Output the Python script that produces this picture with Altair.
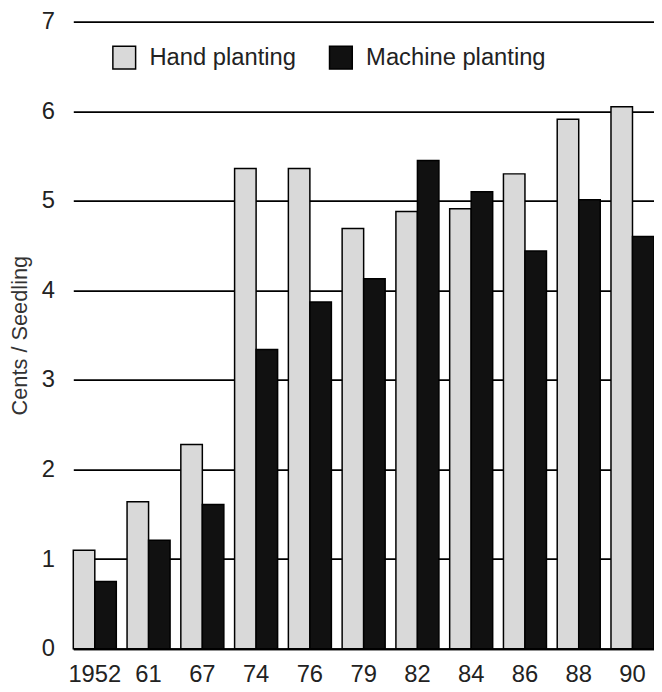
import altair as alt
import pandas as pd

years = ["1952", "61", "67", "74", "76", "79", "82", "84", "86", "88", "90"]
hand = [1.10, 1.64, 2.28, 5.36, 5.36, 4.69, 4.88, 4.91, 5.30, 5.91, 6.05]
machine = [0.75, 1.21, 1.61, 3.34, 3.87, 4.13, 5.45, 5.10, 4.44, 5.01, 4.60]
methods = ["Hand planting", "Machine planting"]
colors = ["#d9d9d9", "#111111"]
y_ticks = [0, 1, 2, 3, 4, 5, 6, 7]

rows = []
for i, yr in enumerate(years):
    rows.append({"year": yr, "method": methods[0], "value": hand[i]})
    rows.append({"year": yr, "method": methods[1], "value": machine[i]})
df = pd.DataFrame(rows)

FONT = "Liberation Sans"

chart = alt.Chart(df).mark_bar(stroke="black", strokeWidth=1.5).encode(
    x=alt.X("year:N", sort=years,
            scale=alt.Scale(paddingInner=0.2, paddingOuter=0),
            axis=alt.Axis(title=None, labelAngle=0, labelFontSize=24, labelFont=FONT,
                          labelColor="#222", labelPadding=14, ticks=False,
                          domain=True, domainColor="black", domainWidth=2)),
    xOffset=alt.XOffset("method:N", sort=methods),
    y=alt.Y("value:Q", scale=alt.Scale(domain=[0, 7], nice=False),
            axis=alt.Axis(title="Cents / Seedling", values=y_ticks, grid=True,
                          gridColor="black", gridWidth=1.8, gridOpacity=1,
                          domain=False, ticks=False, labelFontSize=24, labelFont=FONT,
                          labelColor="#222", labelPadding=19,
                          titleFont=FONT, titleFontSize=22, titleFontWeight="normal",
                          titleColor="#333", titlePadding=10)),
    color=alt.Color("method:N", sort=methods,
                    scale=alt.Scale(domain=methods, range=colors),
                    legend=alt.Legend(title=None, orient="none", legendX=39, legendY=24,
                                      direction="horizontal", columns=2,
                                      symbolType="square", symbolSize=529,
                                      symbolStrokeColor="black", symbolStrokeWidth=1.5,
                                      labelFontSize=24, labelFont=FONT, labelColor="#222",
                                      labelOffset=13, columnPadding=30, padding=0,
                                      labelLimit=400)),
).properties(
    width=587,
    height=634,
    autosize=alt.AutoSizeParams(type="none"),
    padding={"left": 66, "top": 10, "right": 0, "bottom": 38},
).configure_view(stroke=None)

chart.save("out.html", embed_options={"renderer": "svg", "actions": False})
